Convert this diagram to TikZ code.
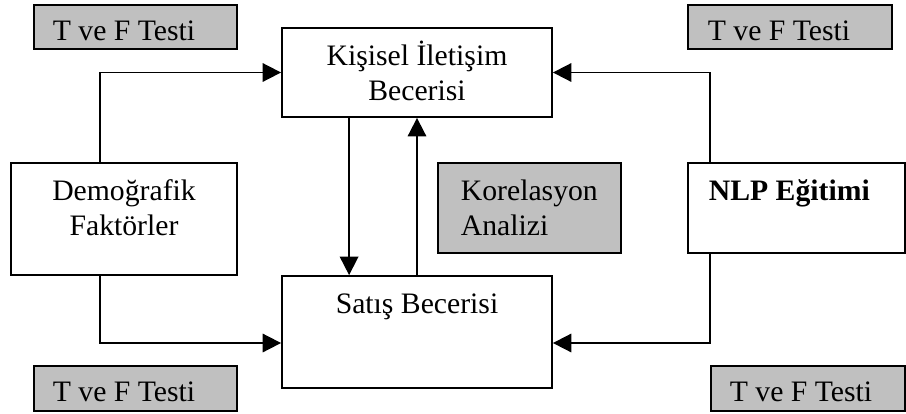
\documentclass[tikz,border=0pt]{standalone}
\usepackage{fontspec}
\setmainfont{Liberation Serif}
\usetikzlibrary{arrows.meta}
\definecolor{boxgray}{RGB}{192,192,192}
\begin{document}
\begin{tikzpicture}[x=1pt,y=-1pt,
  line width=1.8pt,
  box/.style={draw=black, fill=white, line width=1.8pt, rectangle, inner sep=0pt},
  graybox/.style={box, fill=boxgray},
  txt/.style={font=\fontsize{29.7pt}{35pt}\selectfont, inner sep=0pt},
  arr/.style={-{Triangle[length=18.5pt,width=18.5pt]}, line width=1.8pt}]
\useasboundingbox (0,0) rectangle (906,413);

% boxes
\node[graybox, minimum width=203, minimum height=44] (tfTL) at (135.5,27) {};
\node[graybox, minimum width=204, minimum height=44] (tfTR) at (790,27) {};
\node[graybox, minimum width=203, minimum height=45] (tfBL) at (135.5,388.5) {};
\node[graybox, minimum width=194, minimum height=45] (tfBR) at (808,388.5) {};
\node[box, minimum width=270, minimum height=89] (kis) at (417,72.5) {};
\node[box, minimum width=226, minimum height=112] (demo) at (124,219) {};
\node[graybox, minimum width=183, minimum height=90] (kor) at (529.5,208) {};
\node[box, minimum width=217, minimum height=90] (nlp) at (796.5,208) {};
\node[box, minimum width=270, minimum height=112] (sat) at (417,332) {};

% texts
\node[txt, anchor=base west] (tTL) at (52,40.7) {T ve F Testi};
\node[txt, anchor=base west] (tTR) at (707,40.7) {T ve F Testi};
\node[txt, anchor=base west] (tBL) at (52,401.7) {T ve F Testi};
\node[txt, anchor=base west] (tBR) at (729,401.7) {T ve F Testi};
\node[txt, anchor=base] (kis1) at (417,65) {Kişisel İletişim};
\node[txt, anchor=base] (kis2) at (417,100) {Becerisi};
\node[txt, anchor=base] (demo1) at (124,200) {Demoğrafik};
\node[txt, anchor=base] (demo2) at (124,235) {Faktörler};
\node[txt, anchor=base west] (kor1) at (460,200) {Korelasyon};
\node[txt, anchor=base west] (kor2) at (460,235) {Analizi};
\node[txt, anchor=base west, font=\fontsize{29.7pt}{35pt}\selectfont\bfseries] (nlp1) at (708,200) {NLP Eğitimi};
\node[txt, anchor=base] (sat1) at (417,313) {Satış Becerisi};

% connectors
\draw[arr] ([xshift=90pt]demo.north west) |- (kis.west);
\draw[arr] ([xshift=90pt]demo.south west) |- ([yshift=-11pt]sat.west);
\draw[arr] ([xshift=23pt]nlp.north west) |- (kis.east);
\draw[arr] ([xshift=23pt]nlp.south west) |- ([yshift=-11pt]sat.east);
\draw[arr] ([xshift=68pt]kis.south west) -- ([xshift=68pt]sat.north west);
\draw[arr] (sat.north) -- (kis.south);
\end{tikzpicture}
\end{document}
